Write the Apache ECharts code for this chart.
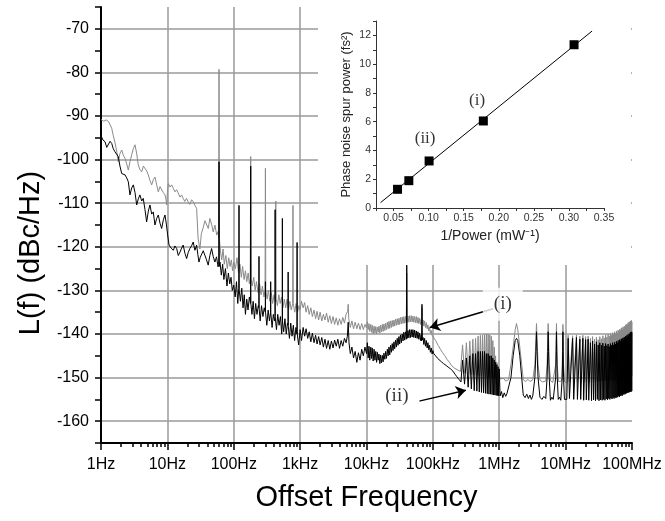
<!DOCTYPE html>
<html><head><meta charset="utf-8">
<script src="https://cdn.jsdelivr.net/npm/echarts@6/dist/echarts.min.js"></script>
<style>html,body{margin:0;padding:0;background:#fff}#c{width:665px;height:521px}</style>
</head><body><div id="c"></div>
<script>
// ---- Main spectrum: tick labels ----
const xTickLabels = ['1Hz','10Hz','100Hz','1kHz','10kHz','100kHz','1MHz','10MHz','100MHz'];
const minorMantissas = [2,3,4,5,6,7,8,9];

// ---- Trace (i): gray, [frequency Hz, dBc/Hz] ----
const grayTrace = [
 [1,-90.8],[1.1,-91.2],[1.2,-90.9],[1.3,-91.3],[1.38,-91],[1.45,-92.8],[1.53,-94.5],[1.62,-96],[1.72,-98],[1.82,-100.5],[1.93,-98.6],[2.05,-97.8],[2.17,-99],[2.3,-99.7],[2.44,-101],[2.58,-102.4],[2.73,-100.5],[2.9,-98.9],[3.07,-97.5],[3.25,-96.6],[3.44,-98.5],[3.64,-101.2],[3.86,-102.3],[4.1,-102.8],[4.35,-101.5],[4.6,-101.2],[4.88,-102.6],[5.16,-103.5],[5.47,-104.8],[5.8,-105.8],[6.14,-104.6],[6.5,-104],[6.9,-105.8],[7.3,-107.4],[7.75,-106.2],[8.2,-106.5],[8.7,-107.6],[9.2,-108.1],[9.5,-109],[9.75,-110.4],[10,-107.5],
 [10.3,-105.5],[11,-106.3],[11.6,-105.8],[12.3,-106.6],[13,-107.4],[13.8,-106.9],[14.6,-107.7],[15.5,-108.6],[16.4,-108.1],[17.3,-108.9],[18.3,-109.6],[19.4,-108.9],[20.6,-109.7],[21.8,-110.3],[23.2,-109.2],[24.6,-109.7],[26,-110.5],[27.6,-111.2],[29,-118],[30.9,-120.5],[32.5,-117],[34.8,-115.5],[36.8,-114],[39.1,-114.3],[41.3,-115.8],[43.7,-113.5],[46.3,-114.8],[49.1,-116.6],[52,-115],[55.4,-117.3],[58,-116.5],[59.3,-118],[60,-79.3],[60.7,-118],
 [63,-121],[66,-123],[69,-120.5],[72,-124],[76,-122],[80,-125],[84,-122.5],[88,-124.5],[92,-123],[96,-125.5],
 [100,-123.5],[106,-125],[112,-122.5],[118,-126],[124,-124],[130,-127],[136,-124.5],[143,-127.5],[150,-125.5],[157,-128],[165,-126],[172,-128.5],[177,-127],[180,-99.3],[183,-127.5],[190,-129],[200,-127],[210,-130],[220,-128],[232,-130.5],[245,-128.5],[258,-131],[270,-129],[285,-131.5],[296,-130],[300,-102],[304,-130],[318,-132],[333,-130],[350,-132.5],[368,-130.5],[385,-133],[405,-131],[424,-132.5],[430,-109.5],[436,-132],[455,-133.5],[478,-131],[500,-133],[525,-131.5],[550,-134],[578,-132],[607,-134],[637,-132],[668,-134.5],[700,-132.5],[735,-134.5],[773,-133],[780,-110.5],[787,-133],[830,-135],[870,-133],[915,-135],[960,-133.5],
 [1000,-134.5],[1050,-132.5],[1110,-134],[1170,-132.8],[1230,-135],[1300,-133.5],[1370,-135.5],[1450,-134],[1530,-136],[1620,-134.5],[1710,-136.5],[1800,-134.8],[1900,-136.8],[2000,-135],[2120,-137],[2240,-135.5],[2370,-136.8],[2500,-135.2],[2650,-137.3],[2800,-135.8],[2960,-137.6],[3130,-136],[3310,-137.8],[3500,-136.3],[3700,-138],[3920,-136.5],[4150,-137.8],[4390,-136.2],[4650,-137.5],[4920,-135.5],[5200,-134.8],[5300,-133.2],[5400,-136.5],[5700,-138.5],[6030,-137],[6380,-138.8],[6750,-137.3],[7150,-138.8],[7560,-137.5],[8000,-139],[8470,-137.6],[8960,-139],[9480,-137.8],
 [10000,-138.6],[10300,-137.2],[10600,-139],[10900,-137.6],[11200,-139.4],[11600,-137.8],[11900,-139.6],[12200,-138],[12600,-140],[13000,-138.2],[13400,-139.8],[13800,-138.3],[14200,-140],[14600,-138.4],[15000,-139.6],[15400,-138.2],[15900,-139.8],[16300,-138],[16800,-139.5],[17300,-137.8],[17800,-139.4],[18300,-137.7],[18900,-139.2],[19400,-137.5],[20000,-139],[20600,-137.3],[21200,-138.8],[21800,-137.1],[22400,-138.7],[23000,-137],[23700,-138.5],[24400,-136.9],[25100,-138.3],[25900,-136.8],[26600,-138.2],[27400,-136.6],[28200,-138],[29000,-136.5],[29900,-137.9],[30800,-136.4],[31600,-137.8],[32500,-136.2],[33500,-137.7],[34500,-136.1],[35500,-137.6],[36500,-136],[37600,-137.5],[38700,-136],[39800,-137.4],[40400,-126],[41000,-137.3],[42200,-135.9],[43500,-137.3],[44700,-135.8],[46000,-137.2],[47300,-135.8],[48700,-137.2],[50100,-135.9],[51600,-137.3],[53100,-136],[54700,-137.4],[56300,-136],[57900,-137.5],[59600,-136.2],[61300,-137.6],[63100,-136.4],[65000,-137.8],[66800,-136.6],[67500,-137.5],[68500,-134],[69500,-137.8],[71200,-136.8],[73000,-138.2],[75100,-137],[77300,-138.5],[79600,-137.4],[81900,-138.8],[84300,-137.9],[86700,-139.3],[89200,-138.5],[91800,-139.8],[94500,-139.2],[97300,-140.3],[100000,-140],
 [103000,-140.6],[110000,-141.5],[120000,-142.6],[130000,-143.5],[140000,-144.3],[150000,-144.9],[165000,-145.9],[180000,-146.6],[190000,-147.2],[210000,-147.8],[240000,-148.3],
 [260000,-148.6],[280000,-142.5],[300000,-149],[320000,-142],[340000,-149.2],[360000,-141.6],[380000,-149.3],[400000,-141.2],[420000,-149.4],[440000,-141],[460000,-149.5],[480000,-140.5],[500000,-149.6],[520000,-140.3],[540000,-149.7],[560000,-140.2],[580000,-149.8],[600000,-140],[620000,-149.8],[640000,-140],[660000,-149.9],[680000,-140],[700000,-149.9],[720000,-140.2],[740000,-150],[760000,-140.5],[780000,-150],[800000,-141.5],[820000,-150.1],[840000,-143],[860000,-150.1],[880000,-145],[900000,-150.2],[920000,-146.5],[940000,-150.2],[960000,-148],[980000,-150.3],[1000000,-149.3],
 [1.03e6,-150.3],[1.1e6,-150.7],[1.17e6,-150.2],[1.25e6,-150.8],[1.32e6,-150.4],[1.38e6,-150.5],[1.5e6,-147],[1.62e6,-143],[1.74e6,-139],[1.82e6,-137.6],[1.9e6,-139],[2.04e6,-143],[2.18e6,-147],[2.3e6,-150.5],[2.5e6,-150.9],[2.7e6,-150.4],[2.9e6,-150.9],[3.2e6,-150.5],
 [3.44e6,-147],[3.57e6,-141],[3.64e6,-137.6],[3.71e6,-141],[3.84e6,-147],[4.1e6,-150.6],[4.5e6,-151],[4.8e6,-150.6],[5.02e6,-150.8],
 [5.26e6,-147],[5.39e6,-141],[5.46e6,-137.6],[5.53e6,-141],[5.66e6,-147],[5.95e6,-150.8],[6.4e6,-151.1],[6.84e6,-150.7],
 [7.08e6,-147],[7.21e6,-141],[7.28e6,-137.6],[7.35e6,-141],[7.48e6,-147],[7.8e6,-150.9],[8.3e6,-151.2],[8.66e6,-150.8],
 [8.9e6,-147],[9.03e6,-141],[9.1e6,-137.8],[9.17e6,-141],[9.3e6,-147],[9.7e6,-151],[10.42e6,-151.2],
 [10.92e6,-140.3],[11.42e6,-151],[12.24e6,-151.3],[12.74e6,-140.4],[13.24e6,-151],[14.06e6,-151.3],[14.56e6,-140.2],[15.06e6,-151],[15.88e6,-151.2],[16.38e6,-140.5],[16.88e6,-151],[17.7e6,-151.2],[18.2e6,-140.3],[18.7e6,-151.1],[19.52e6,-151.2],[20.02e6,-140.6],[20.5e6,-151],[21.34e6,-151.2],[21.84e6,-140.5],[22.75e6,-151.1],
 [23.66e6,-141],[24.57e6,-151],[25.48e6,-140.6],[26.39e6,-151],[27.3e6,-141.2],[28.21e6,-151],[29.12e6,-140.7],[30.03e6,-150.9],[30.94e6,-141.3],[31.85e6,-150.9],[32.76e6,-140.6],[33.67e6,-150.9],[34.58e6,-141.1],[35.49e6,-150.8],[36.4e6,-140.4],[37.31e6,-150.8],[38.22e6,-140.9],[39.13e6,-150.8],[40.04e6,-140.2],[40.95e6,-150.7],[41.86e6,-140.7],[42.77e6,-150.7],[43.68e6,-140],[44.59e6,-150.7],[45.5e6,-140.5],[46.41e6,-150.6],[47.32e6,-139.9],[48.23e6,-150.6],[49.14e6,-140.3],[50.05e6,-150.6],[50.96e6,-139.7],[51.87e6,-150.5],[52.78e6,-140.1],[53.69e6,-150.5],[54.6e6,-139.5],[55.51e6,-150.5],[56.42e6,-139.9],[57.33e6,-150.4],[58.24e6,-139.3],[59.15e6,-150.4],[60.06e6,-139.7],[60.97e6,-150.4],[61.88e6,-139.1],[62.79e6,-150.3],[63.7e6,-139.5],[64.61e6,-150.3],[65.52e6,-138.9],[66.43e6,-150.3],[67.34e6,-139.2],[68.25e6,-150.2],[69.16e6,-138.6],[70.07e6,-150.2],[70.98e6,-139],[71.89e6,-150.2],[72.8e6,-138.4],[73.71e6,-150.1],[74.62e6,-138.8],[75.53e6,-150.1],[76.44e6,-138.2],[77.35e6,-150.1],[78.26e6,-138.5],[79.17e6,-150],[80.08e6,-137.9],[80.99e6,-150],[81.9e6,-138.3],[82.81e6,-150],[83.72e6,-137.7],[84.63e6,-149.9],[85.54e6,-138],[86.45e6,-149.9],[87.36e6,-137.4],[88.27e6,-149.9],[89.18e6,-137.8],[90.09e6,-149.8],[91e6,-137.2],[91.91e6,-149.8],[92.82e6,-137.6],[93.73e6,-149.8],[94.64e6,-137],[95.55e6,-149.7],[96.46e6,-137.4],[97.37e6,-149.7],[98.28e6,-136.9],[99.19e6,-149.7],[1e8,-137.2]
];

// ---- Trace (ii): black, [frequency Hz, dBc/Hz] ----
const blackTrace = [
 [1,-94.5],[1.07,-95.5],[1.15,-95.9],[1.22,-97.2],[1.29,-97],[1.37,-95.8],[1.45,-96.3],[1.53,-97.5],[1.62,-98.2],[1.72,-98.6],[1.82,-99.3],[1.93,-101.5],[2.05,-103.2],[2.17,-102.8],[2.3,-103.5],[2.44,-104.2],[2.58,-105.1],[2.73,-108.1],[2.9,-106.5],[3.07,-105.8],[3.25,-107.5],[3.45,-110.4],[3.65,-109],[3.86,-108.1],[4.1,-109.5],[4.33,-108.9],[4.6,-111.5],[4.87,-114.3],[5.17,-111.8],[5.47,-110.4],[5.8,-112.5],[6.13,-112],[6.5,-115],[6.9,-113.5],[7.3,-112.7],[7.75,-114.6],[8.2,-115.8],[8.7,-113.8],[9.2,-112.7],[9.65,-114.8],[10.1,-117.3],
 [10.6,-119.6],[11.4,-120.3],[12.3,-120.8],[13,-119.8],[13.8,-120.4],[14.6,-122],[15.5,-121.2],[16.4,-120.3],[17.3,-119.6],[18.4,-121.5],[19.5,-122.7],[20.6,-121.3],[21.8,-120.4],[23.1,-119.8],[24.5,-118.9],[26,-120.8],[27.6,-119.6],[28.8,-121.8],[29.9,-123.5],[31.3,-122.4],[32.8,-122.7],[34.7,-120.9],[36.8,-121.2],[38.9,-123],[41.2,-124.2],[43.7,-122],[46.4,-120.4],[49,-122.2],[52,-123.5],[55,-122.3],[58,-124.6],[59.3,-124],[60,-100.5],[60.7,-124.5],
 [62,-123.5],[65,-126.5],[68,-124],[71,-127.5],[75,-125],[79,-129],[83,-126],[87,-128.5],[91,-127],[95,-130],
 [100,-128.8],[105,-131.5],[110,-128],[115,-133],[119,-129.5],[120,-110.5],[121,-130],[126,-132.5],[132,-129.5],[138,-134],[144,-131],[150,-135.5],[157,-132],[164,-134.5],[172,-131.5],[179,-133],[180,-101.5],[181,-133],[188,-135.5],[196,-132.5],[205,-136.5],[214,-133],[224,-135.5],[234,-133.5],[239,-134],[240,-122.2],[241,-134],[250,-137],[262,-133.5],[275,-136],[288,-134],[299,-135],[300,-128],[301,-135],[315,-138],[330,-134.5],[345,-137],[359,-135],[360,-128],[361,-135],[378,-138.5],[395,-135.5],[412,-137],[419,-136],[420,-111.5],[421,-136],[440,-139],[460,-135.5],[482,-138],[505,-136],[528,-140],[538,-137],[540,-113.5],[542,-137],[565,-139.5],[590,-136.5],[618,-140],[645,-137.5],[659,-138],[660,-125.8],[661,-138],[690,-141],[722,-137.5],[755,-140.5],[790,-138],[826,-141.5],[864,-138.5],[895,-140],[900,-119],[905,-140],[950,-142.5],
 [1000,-139],[1050,-141.5],[1110,-138.5],[1170,-140.5],[1230,-138.8],[1300,-141],[1370,-139.5],[1450,-141.8],[1530,-139.8],[1620,-142],[1710,-140.3],[1800,-142.3],[1900,-140.6],[2000,-142.5],[2120,-140.8],[2240,-143],[2370,-141.2],[2500,-143.3],[2650,-141.5],[2800,-143.5],[2960,-141.6],[3130,-143.2],[3310,-141.4],[3500,-142.8],[3700,-141.2],[3920,-143.3],[4150,-141.5],[4390,-142.8],[4650,-141],[4920,-142],[5150,-140.5],[5300,-137.3],[5450,-142],[5700,-144.5],[6030,-143],[6380,-145.5],[6750,-144],[7150,-146.5],[7560,-144.3],[8000,-146],[8470,-143.5],[8960,-145],[9480,-143],
 [10000,-144.5],[10300,-142],[10600,-145.5],[10900,-142.8],[11200,-146],[11600,-143],[11900,-145.6],[12200,-143.2],[12600,-146.2],[13000,-143.5],[13400,-146],[13800,-144],[14200,-146.5],[14600,-144.2],[15000,-146],[15400,-144.6],[15900,-146.8],[16300,-144.8],[16800,-146.6],[17300,-144.9],[17800,-146.4],[18300,-144.4],[18900,-145.8],[19400,-144],[20000,-145.6],[20600,-143.5],[21200,-145],[21800,-143],[22400,-144.8],[23000,-142.6],[23700,-144.2],[24400,-142.2],[25100,-143.8],[25900,-141.8],[26600,-143.4],[27400,-141.4],[28200,-143],[29000,-141],[29900,-142.6],[30800,-140.6],[31600,-142.3],[32500,-140.2],[33500,-142],[34500,-140],[35500,-141.6],[36500,-139.6],[37600,-141.4],[38700,-139.5],[39800,-141.2],[40400,-124.2],[41000,-141],[42200,-139.2],[43500,-140.9],[44700,-139],[46000,-140.8],[47300,-139],[48700,-140.7],[50100,-139],[51600,-140.8],[53100,-139.1],[54700,-140.9],[56300,-139.3],[57900,-141],[59600,-139.5],[61300,-141.2],[63100,-139.8],[65000,-141.5],[66800,-140.2],[67500,-141.6],[68500,-133.2],[69500,-141.4],[71200,-140.8],[73000,-142.4],[75100,-141],[77300,-142.8],[79600,-141.5],[81900,-143.2],[84300,-142],[86700,-143.6],[89200,-142.6],[91800,-144.2],[94500,-143.2],[97300,-144.6],[100000,-143.8],
 [103000,-144.5],[110000,-145],[118000,-145.6],[126000,-146],[135000,-146.4],[145000,-146.8],[158000,-147.2],[170000,-147.6],[185000,-148],[200000,-148.5],[215000,-149.2],[230000,-149.8],[250000,-150.5],
 [265000,-151],[280000,-146],[300000,-151.5],[320000,-145.5],[340000,-152.2],[360000,-145],[380000,-152.6],[400000,-144.5],[420000,-153],[440000,-144.5],[460000,-153.1],[480000,-144],[500000,-153.3],[520000,-144],[540000,-153.4],[560000,-144],[580000,-153.5],[600000,-144],[620000,-153.6],[640000,-144.5],[660000,-153.7],[680000,-144.5],[700000,-153.8],[720000,-145],[740000,-153.8],[760000,-145],[780000,-153.9],[800000,-145.5],[820000,-154],[840000,-146],[860000,-154],[880000,-146.5],[900000,-154.1],[920000,-147],[940000,-154.1],[960000,-147.5],[980000,-154.2],[1000000,-148],
 [1.03e6,-154.2],[1.08e6,-153.2],[1.13e6,-154.6],[1.19e6,-153.5],[1.25e6,-154.3],[1.31e6,-153.6],[1.38e6,-154],[1.5e6,-150],[1.62e6,-145],[1.74e6,-141.5],[1.82e6,-141],[1.9e6,-141.5],[2.04e6,-145],[2.18e6,-150],[2.3e6,-154],[2.45e6,-154.6],[2.6e6,-153.8],[2.75e6,-154.8],[2.9e6,-154],[3.05e6,-155],[3.2e6,-154.2],
 [3.44e6,-150],[3.57e6,-144],[3.64e6,-139.5],[3.71e6,-144],[3.84e6,-150],[4.1e6,-154.5],[4.4e6,-155],[4.7e6,-154.3],[5.02e6,-154.8],
 [5.26e6,-150],[5.39e6,-144],[5.46e6,-139.5],[5.53e6,-144],[5.66e6,-150],[5.9e6,-155.2],[6.2e6,-154.5],[6.5e6,-155],[6.84e6,-154.8],
 [7.08e6,-150],[7.21e6,-144],[7.28e6,-139.5],[7.35e6,-144],[7.48e6,-150],[7.75e6,-155],[8.1e6,-154.5],[8.45e6,-155.2],[8.66e6,-154.8],
 [8.9e6,-150],[9.03e6,-144],[9.1e6,-139.5],[9.17e6,-144],[9.3e6,-150],[9.6e6,-155],[9.95e6,-154.6],[10.42e6,-155],
 [10.92e6,-141],[11.42e6,-154.8],[11.83e6,-155.1],[12.24e6,-154.7],[12.74e6,-141],[13.24e6,-155],[13.65e6,-154.8],[14.06e6,-155.2],[14.56e6,-140.8],[15.06e6,-155],[15.47e6,-154.9],[15.88e6,-155.2],[16.38e6,-141.2],[16.88e6,-155],[17.3e6,-155.2],[17.7e6,-154.8],[18.2e6,-141],[18.7e6,-155.2],[19.1e6,-155],[19.52e6,-155.3],[20.02e6,-141.3],[20.5e6,-155.1],[20.93e6,-155],[21.34e6,-155.3],[21.84e6,-141.2],[22.3e6,-155.2],[22.75e6,-155.3],
 [23.66e6,-142],[24.57e6,-155.3],[25.48e6,-141.6],[26.39e6,-155.1],[27.3e6,-142.3],[28.21e6,-155.3],[29.12e6,-141.8],[30.03e6,-155],[30.94e6,-142.5],[31.85e6,-155.3],[32.76e6,-142],[33.67e6,-155.1],[34.58e6,-142.6],[35.49e6,-155.2],[36.4e6,-142.1],[37.31e6,-155],[38.22e6,-142.8],[39.13e6,-155.2],[40.04e6,-142.2],[40.95e6,-154.9],[41.86e6,-142.7],[42.77e6,-155.1],[43.68e6,-142.3],[44.59e6,-154.8],[45.5e6,-142.9],[46.41e6,-155],[47.32e6,-142.2],[48.23e6,-154.7],[49.14e6,-142.6],[50.05e6,-154.9],[50.96e6,-142],[51.87e6,-154.6],[52.78e6,-142.5],[53.69e6,-154.8],[54.6e6,-141.9],[55.51e6,-154.5],[56.42e6,-142.3],[57.33e6,-154.7],[58.24e6,-141.7],[59.15e6,-154.4],[60.06e6,-142.1],[60.97e6,-154.5],[61.88e6,-141.5],[62.79e6,-154.2],[63.7e6,-141.9],[64.61e6,-154.4],[65.52e6,-141.3],[66.43e6,-154.1],[67.34e6,-141.7],[68.25e6,-154.2],[69.16e6,-141.1],[70.07e6,-153.9],[70.98e6,-141.5],[71.89e6,-154.1],[72.8e6,-140.9],[73.71e6,-153.8],[74.62e6,-141.3],[75.53e6,-153.9],[76.44e6,-140.7],[77.35e6,-153.6],[78.26e6,-141.1],[79.17e6,-153.8],[80.08e6,-140.5],[80.99e6,-153.5],[81.9e6,-140.9],[82.81e6,-153.6],[83.72e6,-140.3],[84.63e6,-153.4],[85.54e6,-140.7],[86.45e6,-153.5],[87.36e6,-140.1],[88.27e6,-153.3],[89.18e6,-140.5],[90.09e6,-153.4],[91e6,-139.9],[91.91e6,-153.2],[92.82e6,-140.2],[93.73e6,-153.3],[94.64e6,-139.6],[95.55e6,-153.1],[96.46e6,-140],[97.37e6,-153.2],[98.28e6,-139.5],[99.19e6,-153.1],[1e8,-139.6]
];

// ---- Main-plot annotations (data coordinates) ----
const mainNotes = [
  {text:'(i)',  at:[1.13e6,-133.2]},
  {text:'(ii)', at:[2.87e4,-154.3]}
];
const mainArrows = [
  {from:[8.1e5,-134.2], to:[9.0e4,-138.5]},
  {from:[6.2e4,-155.4], to:[3.14e5,-152.9]}
];

// ---- Inset: spur power vs 1/Power ----
const insetPower = [0.0557, 0.0718, 0.1007, 0.178, 0.3073];
const insetSpur  = [1.30, 1.90, 3.27, 6.05, 11.35];
const insetFitLine = [[0.0315, 0.375], [0.333, 12.3]];
const insetNotes = [
  {text:'(i)',  at:[0.169, 7.5]},
  {text:'(ii)', at:[0.095, 4.85]}
];

const minorFreqs = [];
for (let d = 0; d < 8; d++) for (const m of minorMantissas) minorFreqs.push(m * Math.pow(10, d));

const FONT = 'Liberation Sans, Arial, sans-serif';
const SERIF = 'Liberation Serif, Times New Roman, serif';

const chart = echarts.init(document.getElementById('c'), null, {renderer:'canvas'});
chart.setOption({
  animation: false,
  backgroundColor: '#fff',
  textStyle: {fontFamily: FONT},
  grid: [
    {left:101, right:33, top:7, bottom:78},
    {left:376, right:61, top:21, bottom:313}
  ],
  graphic: [
    {type:'rect', shape:{x:318, y:0, width:313, height:265}, style:{fill:'#fff'}, z:10, silent:true}
  ],
  xAxis: [
    {type:'log', logBase:10, gridIndex:0, min:1, max:1e8, splitNumber:8, position:'bottom',
     axisLine:{lineStyle:{color:'#000', width:2}},
     axisTick:{length:7, lineStyle:{color:'#000', width:1.5}},
     axisLabel:{color:'#000', fontSize:16, margin:14, fontFamily:FONT,
       formatter: v => xTickLabels[Math.round(Math.log10(v))]},
     splitLine:{show:true, showMaxLine:false, lineStyle:{color:'#9a9a9a', width:1.5}},
     name:'Offset Frequency', nameLocation:'middle', nameGap:40,
     nameTextStyle:{fontSize:29, color:'#000', fontFamily:FONT}},
    {type:'log', logBase:10, gridIndex:0, min:1, max:1e8, position:'bottom',
     axisLine:{show:false}, axisLabel:{show:false}, splitLine:{show:false},
     axisTick:{show:true, length:4, customValues:minorFreqs, lineStyle:{color:'#000', width:1.5}}},
    {type:'value', gridIndex:1, min:0.025, max:0.35, interval:0.025, z:20,
     axisLine:{lineStyle:{color:'#333', width:1}},
     axisTick:{length:3, lineStyle:{color:'#333'}},
     axisLabel:{color:'#333', fontSize:10.5, margin:5, fontFamily:FONT,
       formatter: v => (Math.round(v/0.025) % 2 === 0 ? v.toFixed(2) : '')},
     splitLine:{show:false},
     name:'1/Power (mW\u207B\u00B9)', nameLocation:'middle', nameGap:21,
     nameTextStyle:{fontSize:14, color:'#222', fontFamily:FONT}}
  ],
  yAxis: [
    {type:'value', gridIndex:0, min:-165, max:-65, interval:5,
     axisLine:{show:true, lineStyle:{color:'#000', width:2}},
     axisTick:{show:true, length:6, lineStyle:{color:'#000', width:1.5}},
     axisLabel:{color:'#000', fontSize:16, margin:12, fontFamily:FONT,
       formatter: v => (v % 10 === 0 ? String(v) : '')},
     splitLine:{show:true, lineStyle:{color:['rgba(0,0,0,0)','#9a9a9a'], width:1.5}},
     name:'L(f) (dBc/Hz)', nameLocation:'middle', nameGap:56,
     nameTextStyle:{fontSize:29, color:'#000', fontFamily:FONT, padding:[0,56,0,0]}},
    {type:'value', gridIndex:1, min:0, max:13, interval:1, z:20,
     axisLine:{show:true, lineStyle:{color:'#333', width:1}},
     axisTick:{show:true, length:3, lineStyle:{color:'#333'}},
     axisLabel:{color:'#333', fontSize:10.5, margin:5, fontFamily:FONT,
       formatter: v => (v % 2 === 0 && v <= 12 ? String(v) : '')},
     splitLine:{show:false},
     name:'Phase noise spur power (fs\u00B2)', nameLocation:'middle', nameGap:23,
     nameTextStyle:{fontSize:13, color:'#222', fontFamily:FONT}}
  ],
  series: [
    {name:'(i)', type:'line', xAxisIndex:0, yAxisIndex:0, data:grayTrace, showSymbol:false,
     lineStyle:{color:'#8a8a8a', width:1}, z:2, silent:true},
    {name:'(ii)', type:'line', xAxisIndex:0, yAxisIndex:0, data:blackTrace, showSymbol:false,
     lineStyle:{color:'#000', width:1}, z:3, silent:true},
    {type:'scatter', xAxisIndex:0, yAxisIndex:0, symbolSize:0, z:15, silent:true,
     data: mainNotes.map(n => ({value:n.at, label:{formatter:n.text}})),
     label:{show:true, position:'inside', color:'#000', fontSize:19, fontFamily:SERIF,
       backgroundColor:'#fff', padding:[10,11,4,11]},
     markLine:{silent:true, symbol:['none','arrow'], symbolSize:10, label:{show:false},
       lineStyle:{color:'#000', width:1.5, type:'solid'},
       data: mainArrows.map(a => [{coord:a.from}, {coord:a.to}])}},
    {type:'line', xAxisIndex:2, yAxisIndex:1, data:insetFitLine, showSymbol:false,
     lineStyle:{color:'#000', width:1}, z:20, silent:true},
    {type:'scatter', xAxisIndex:2, yAxisIndex:1, symbol:'rect', symbolSize:9,
     itemStyle:{color:'#000', opacity:1}, z:21, silent:true,
     data: insetPower.map((p, i) => [p, insetSpur[i]])},
    {type:'scatter', xAxisIndex:2, yAxisIndex:1, symbolSize:0, z:21, silent:true,
     data: insetNotes.map(n => ({value:n.at, label:{formatter:n.text}})),
     label:{show:true, position:'inside', color:'#000', fontSize:17, fontFamily:SERIF}}
  ]
});
</script></body></html>
